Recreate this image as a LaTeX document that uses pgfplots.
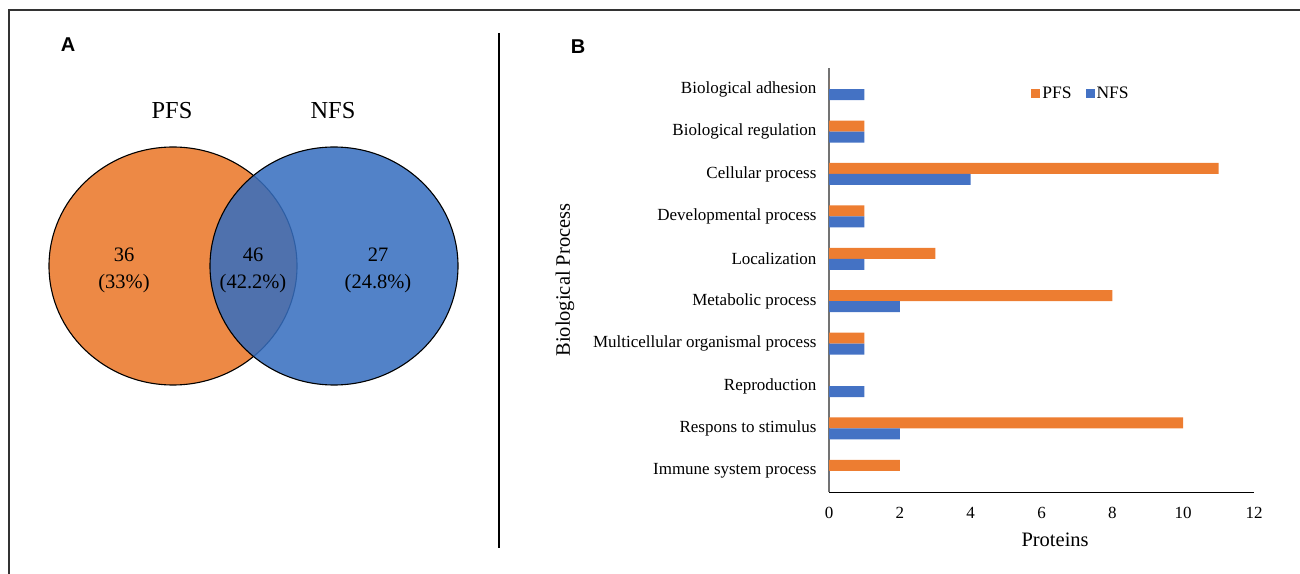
\documentclass[border=0pt]{standalone}
\usepackage{fontspec}
\setmainfont{Liberation Serif}
\newfontfamily\labfont{Liberation Sans}
\usepackage{pgfplots}
\pgfplotsset{compat=1.18}
\definecolor{vorange}{RGB}{237,137,69}
\definecolor{vblue}{RGB}{54,110,191}
\definecolor{borange}{HTML}{ED7D31}
\definecolor{bblue}{HTML}{4472C4}
\begin{document}
\begin{tikzpicture}
\useasboundingbox (0,0) rectangle (1300pt,573pt);
% ---------- Panel A: Venn diagram ----------
\begin{axis}[at={(0pt,0pt)}, anchor=origin, scale only axis, width=500pt, height=573pt,
  xmin=0, xmax=500, ymin=0, ymax=573, hide axis, clip=false]
  % frame and divider
  \draw[line width=1.4pt, black!80] (9,-10) -- (9,563) -- (1320,563);
  \draw[line width=2pt, black] (499,540) -- (499,25);
  \node[font=\labfont\fontsize{20}{20}\selectfont\bfseries] at (68,528) {A};
  \node[font=\fontsize{24.4}{24.4}\selectfont] at (172,462) {PFS};
  \node[font=\fontsize{24.4}{24.4}\selectfont] at (333,462) {NFS};
  \fill[vorange] (173,307) ellipse [x radius=124, y radius=119];
  \draw[line width=1.1pt] (173,307) ellipse [x radius=124, y radius=119];
  \fill[vblue, opacity=0.86] (334,307) ellipse [x radius=124, y radius=119];
  \draw[line width=1.1pt] (334,307) ellipse [x radius=124, y radius=119];
  \node[align=center, font=\fontsize{20.5}{27}\selectfont] at (124,302.5) {36\\(33\%)};
  \node[align=center, font=\fontsize{20.5}{27}\selectfont] at (253,302.5) {46\\(42.2\%)};
  \node[align=center, font=\fontsize{20.5}{27}\selectfont] at (378,302.5) {27\\(24.8\%)};
  \node[font=\labfont\fontsize{20}{20}\selectfont\bfseries] at (578,526) {B};
\end{axis}
% ---------- Panel B: bar chart ----------
\begin{axis}[at={(829pt,81pt)}, anchor=south west, scale only axis,
  width=425pt, height=424pt,
  xmin=0, xmax=12, ymin=-0.5, ymax=9.5,
  xtick={0,2,...,12},
  ytick={0,...,9},
  yticklabels={Immune system process, Respons to stimulus, Reproduction,
    Multicellular organismal process, Metabolic process, Localization,
    Developmental process, Cellular process, Biological regulation, Biological adhesion},
  axis x line=bottom, axis y line=left,
  x axis line style={-, black, line width=0.9pt},
  y axis line style={-, black!55, line width=1.2pt},
  major tick length=0pt,
  /pgf/number format/assume math mode=true,
  ticklabel style={font=\fontsize{17}{17}\selectfont},
  yticklabel style={xshift=-9pt},
  xticklabel style={yshift=-12pt},
  every axis y label/.style={at={(axis description cs:-0.621,0.5)}, rotate=90, anchor=center, font=\fontsize{20.5}{20.5}\selectfont},
  every axis x label/.style={at={(axis description cs:0.532,-0.113)}, anchor=center, font=\fontsize{20.5}{20.5}\selectfont},
  ylabel={Biological Process},
  xlabel={Proteins},
  xbar, bar width=11pt,
  legend columns=2,
  legend style={at={(0.593,0.941)}, anchor=center, draw=none, fill=none,
    font=\fontsize{17.5}{17.5}\selectfont, /tikz/every even column/.append style={column sep=12pt}},
  legend image code/.code={\fill[#1] (0pt,-4.5pt) rectangle (9pt,4.5pt);},
]
\addplot[fill=borange, draw=none, bar shift=5.5pt] coordinates {
  (2,0) (10,1) (0,2) (1,3) (8,4) (3,5) (1,6) (11,7) (1,8) (0,9)};
\addplot[fill=bblue, draw=none, bar shift=-5.5pt] coordinates {
  (0,0) (2,1) (1,2) (1,3) (2,4) (1,5) (1,6) (4,7) (1,8) (1,9)};
\legend{PFS, NFS}
\end{axis}
\end{tikzpicture}
\end{document}
